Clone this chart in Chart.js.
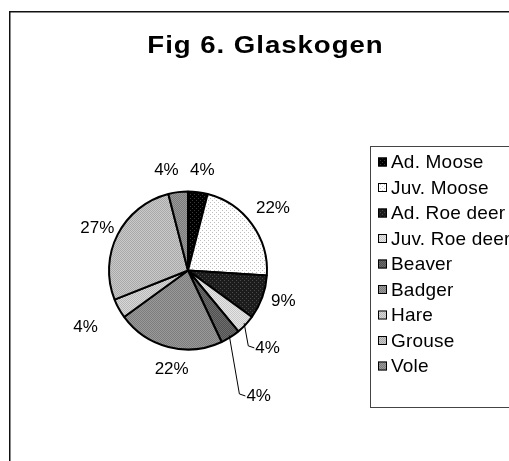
<!DOCTYPE html>
<html><head><meta charset="utf-8">
<script src="https://cdn.jsdelivr.net/npm/chart.js@4/dist/chart.umd.min.js"></script>
<style>html,body{margin:0;padding:0;background:#fff}</style>
</head><body><canvas id="c" width="509" height="461"></canvas>
<script>
// ---- data ----
const categories = ['Ad. Moose','Juv. Moose','Ad. Roe deer','Juv. Roe deer','Beaver','Badger','Hare','Grouse','Vole'];
const shares = [4, 22, 9, 4, 4, 22, 4, 27, 4];
const pctLabels = ['4%','22%','9%','4%','4%','22%','4%','27%','4%'];
const titleText = 'Fig 6. Glaskogen';

// ---- styles (kept separate from data) ----
const fillBase = ['#000000','#ffffff','#1c1c1c','#e6e6e6','#505050','#9a9a9a','#d8d8d8','#cacaca','#7a7a7a'];
const fillDot  = ['#3a3a3a','#bdbdbd','#4a4a4a','#c8c8c8','#6e6e6e','#7c7c7c','#b8b8b8','#a8a8a8','#9a9a9a'];
const labelShift = [1, 0, -2, 1, 3, -5, 0, -2, -5];       // degrees from slice middle
const labelDist  = [22, 26, 21, 32, 65, 21, 38, 21, 23];  // px beyond pie radius
const hasLeader  = [false,false,false,true,true,false,false,false,false];

function makePattern(bg, fg, kind) {
  const s = 4, cv = document.createElement('canvas');
  cv.width = s; cv.height = s;
  const g = cv.getContext('2d');
  g.fillStyle = bg; g.fillRect(0,0,s,s);
  g.fillStyle = fg;
  if (kind === 0) { g.fillRect(0,0,1,1); g.fillRect(2,2,1,1); }
  else { g.fillRect(0,0,1,1); g.fillRect(2,0,1,1); g.fillRect(1,1,1,1); g.fillRect(3,1,1,1); g.fillRect(0,2,1,1); g.fillRect(2,2,1,1); g.fillRect(1,3,1,1); g.fillRect(3,3,1,1); }
  return document.getElementById('c').getContext('2d').createPattern(cv, 'repeat');
}
const patternKind = [0,0,0,1,1,1,1,1,1];
const fills = fillBase.map((b,i) => makePattern(b, fillDot[i], patternKind[i]));

const FONT = '"Liberation Sans", Arial, sans-serif';

const extras = {
  id: 'extras',
  afterDraw(chart) {
    const ctx = chart.ctx;
    ctx.save();
    // outer frame
    ctx.strokeStyle = '#111'; ctx.lineWidth = 1.5;
    ctx.strokeRect(9.75, 11.75, 700, 700);
    // title (wide letterforms as in the original)
    ctx.fillStyle = '#000';
    ctx.font = 'bold 23px ' + FONT;
    ctx.textAlign = 'center'; ctx.textBaseline = 'middle';
    ctx.save();
    ctx.translate(265, 47);
    ctx.scale(1.2, 1);
    ctx.letterSpacing = '0.8px';
    ctx.fillText(titleText, 0.4, 0);
    ctx.restore();

    // percent labels
    const meta = chart.getDatasetMeta(0);
    ctx.font = '17px ' + FONT;
    ctx.letterSpacing = '0px';
    meta.data.forEach((arc, i) => {
      const p = arc.getProps(['x','y','startAngle','endAngle','outerRadius'], true);
      const mid = (p.startAngle + p.endAngle) / 2;
      const a = mid + labelShift[i] * Math.PI / 180;
      const d = p.outerRadius + labelDist[i];
      const lx = p.x + Math.cos(a) * d, ly = p.y + Math.sin(a) * d;
      ctx.textAlign = 'center'; ctx.textBaseline = 'middle';
      ctx.fillStyle = '#000';
      ctx.fillText(pctLabels[i], lx, ly);
      if (hasLeader[i]) {
        const w = ctx.measureText(pctLabels[i]).width;
        const ex = p.x + Math.cos(mid) * (p.outerRadius - 2), ey = p.y + Math.sin(mid) * (p.outerRadius - 2);
        ctx.beginPath();
        ctx.strokeStyle = '#000'; ctx.lineWidth = 1;
        ctx.moveTo(ex, ey);
        ctx.lineTo(lx - w/2 - 7, ly - 2);
        ctx.lineTo(lx - w/2 - 1, ly);
        ctx.stroke();
      }
    });

    // legend
    const bx = 370, by = 146, bh = 261;
    ctx.strokeStyle = '#444'; ctx.lineWidth = 1;
    ctx.strokeRect(bx + 0.5, by + 0.5, 300, bh);
    ctx.font = '19px ' + FONT;
    ctx.textAlign = 'left'; ctx.textBaseline = 'middle';
    ctx.letterSpacing = '0.2px';
    categories.forEach((name, i) => {
      const y = by + 16 + i * 25.5;
      ctx.fillStyle = fills[i];
      ctx.fillRect(bx + 8, y - 4.5, 9, 9);
      ctx.strokeStyle = '#000'; ctx.lineWidth = 1;
      ctx.strokeRect(bx + 8.5, y - 4, 8, 8);
      ctx.fillStyle = '#000';
      ctx.fillText(name, bx + 21, y + 1);
    });
    ctx.restore();
  }
};

new Chart(document.getElementById('c'), {
  type: 'pie',
  data: {
    labels: categories,
    datasets: [{
      data: shares,
      backgroundColor: fills,
      borderColor: '#000',
      borderWidth: 2
    }]
  },
  options: {
    responsive: false,
    animation: false,
    devicePixelRatio: 1,
    layout: { padding: { left: 108, right: 241, top: 190, bottom: 110 } },
    plugins: { legend: { display: false }, title: { display: false }, tooltip: { enabled: false } }
  },
  plugins: [extras]
});
</script>
</body></html>
